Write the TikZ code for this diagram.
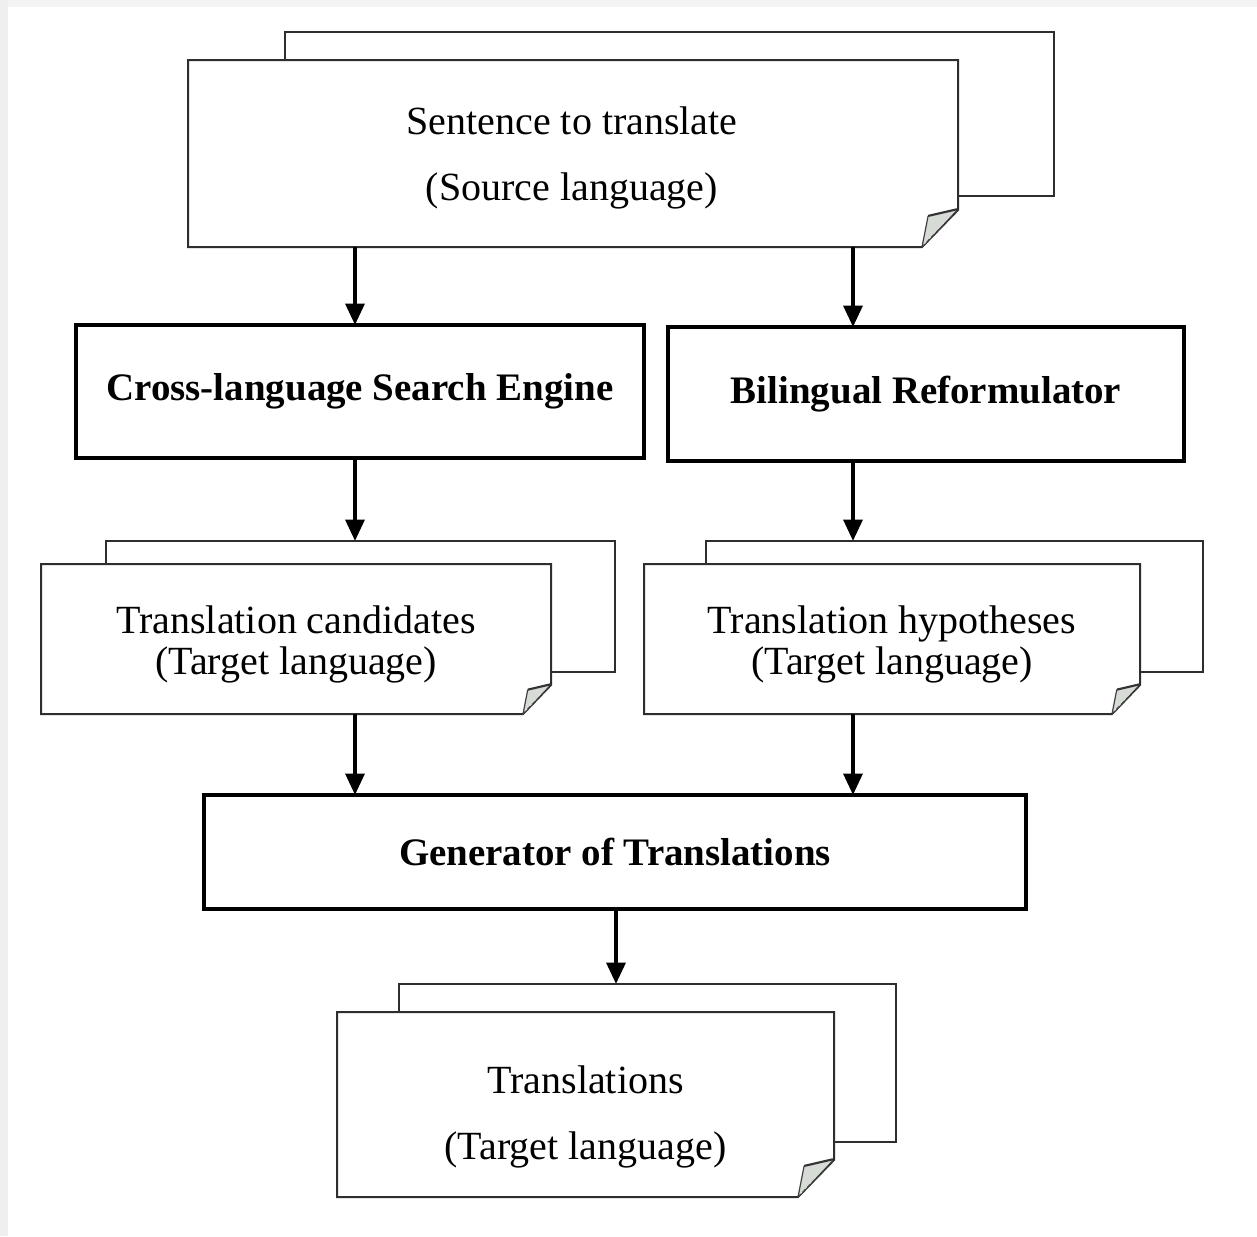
\documentclass[tikz,border=0pt]{standalone}
\usepackage{fontspec}
\setmainfont{Liberation Serif}
\usetikzlibrary{arrows.meta,calc}
\definecolor{flapgray}{HTML}{D6DBD6}
\definecolor{edgegray}{HTML}{EFEFEF}
\pgfdeclarelayer{canvas}
\pgfdeclarelayer{sheetback}
\pgfdeclarelayer{sheetfront}
\pgfsetlayers{canvas,sheetback,sheetfront,main}

% outline of a front sheet with its bottom-right corner folded over
\newcommand{\frontsheet}[3]{%
  \begin{pgfonlayer}{sheetfront}
    \draw[sheetline] (#1.north west) -- (#1.north east)
      -- ($(#1.south east)+(0,-#3)$) -- ($(#1.south east)+(-#2,0)$)
      -- (#1.south west) -- cycle;
    \fill[flapgray] ($(#1.south east)+(-#2,0)$)
      -- ($(#1.south east)+(-0.83*#2,-0.84*#3)$)
      -- ($(#1.south east)+(-0.03*#2,-1.02*#3)$) -- cycle;
    \draw[black!80, line width=1.6pt] ($(#1.south east)+(-0.83*#2,-0.84*#3)$)
      -- ($(#1.south east)+(-0.03*#2,-1.02*#3)$);
    \draw[black!75, line width=0.9pt] ($(#1.south east)+(-#2,0)$)
      -- ($(#1.south east)+(-0.83*#2,-0.84*#3)$);
    \draw[black!75, line width=0.9pt, densely dashed] ($(#1.south east)+(-#2,0)$)
      -- ($(#1.south east)+(0,-#3)$);
  \end{pgfonlayer}}

\begin{document}
\begin{tikzpicture}[x=0.75pt,y=-0.75pt,
  sheetline/.style={draw=black!82, line width=1.5pt, fill=white, line join=miter},
  backsheet/.style={sheetline, inner sep=0pt, outer sep=0pt},
  sheet/.style={inner sep=0pt, outer sep=0pt},
  sheettext/.style={inner sep=0pt, outer sep=0pt, align=center,
    font=\fontsize{30}{31}\selectfont},
  module/.style={draw=black, line width=3pt, fill=white, inner sep=0pt, outer sep=0pt,
    font=\fontsize{29.2}{34}\selectfont\bfseries},
  arr/.style={line width=3pt, -{Triangle[width=14pt,length=16pt]}}
]
% page area and its faint edge shading
\begin{pgfonlayer}{canvas}
  \fill[white] (0,0) rectangle (1257,1236);
  \fill[edgegray] (0,0) rectangle (8,1236);
  \fill[edgegray!70] (8,0) rectangle (1257,7);
\end{pgfonlayer}
\useasboundingbox (0,0) rectangle (1257,1236);

% column positions of the connectors
\coordinate (lx) at (355,0);
\coordinate (rx) at (853,0);
\coordinate (mx) at (616,0);

% back sheets of the document stacks
\begin{pgfonlayer}{sheetback}
  \node[backsheet, minimum width=576.75pt, minimum height=123pt] (srcb) at (669.5,114) {};
  \node[backsheet, minimum width=381.75pt, minimum height=98.25pt] (candb) at (360.5,606.5) {};
  \node[backsheet, minimum width=372.75pt, minimum height=98.25pt] (hypb) at (954.5,606.5) {};
  \node[backsheet, minimum width=372.75pt, minimum height=118.5pt] (outb) at (647.5,1063) {};
\end{pgfonlayer}

% front sheets and their texts
\node[sheet, minimum width=577.5pt, minimum height=140.25pt] (src) at (573,153.5) {};
\frontsheet{src}{36}{37}
\node[sheettext] (srctext) at (572,158)
  {Sentence to translate\\[18pt](Source language)};

\node[sheet, minimum width=382.5pt, minimum height=112.5pt] (cand) at (296,639) {};
\frontsheet{cand}{28}{29}
\node[sheettext] (candtext) at (296,644.5)
  {Translation candidates\\(Target language)};

\node[sheet, minimum width=372pt, minimum height=112.5pt] (hyp) at (892,639) {};
\frontsheet{hyp}{28}{29}
\node[sheettext] (hyptext) at (892,644.5)
  {Translation hypotheses\\(Target language)};

\node[sheet, minimum width=372.75pt, minimum height=138.75pt] (out) at (585.5,1104.5) {};
\frontsheet{out}{36}{37}
\node[sheettext] (outtext) at (585.5,1117)
  {Translations\\[18pt](Target language)};

% processing modules
\node[module, minimum width=426pt, minimum height=99.75pt] (cls) at (360,391.5)
  {Cross-language Search Engine};
\node[module, minimum width=387pt, minimum height=100.5pt] (br) at (926,394)
  {Bilingual Reformulator};
\node[module, minimum width=616.5pt, minimum height=85.5pt] (gen) at (615,852)
  {Generator of Translations};

% data flow
\draw[arr] (src.south -| lx) -- (cls.north -| lx);
\draw[arr] (src.south -| rx) -- (br.north -| rx);
\draw[arr] (cls.south -| lx) -- (candb.north -| lx);
\draw[arr] (br.south -| rx) -- (hypb.north -| rx);
\draw[arr] (cand.south -| lx) -- (gen.north -| lx);
\draw[arr] (hyp.south -| rx) -- (gen.north -| rx);
\draw[arr] (gen.south -| mx) -- (outb.north -| mx);
\end{tikzpicture}
\end{document}
